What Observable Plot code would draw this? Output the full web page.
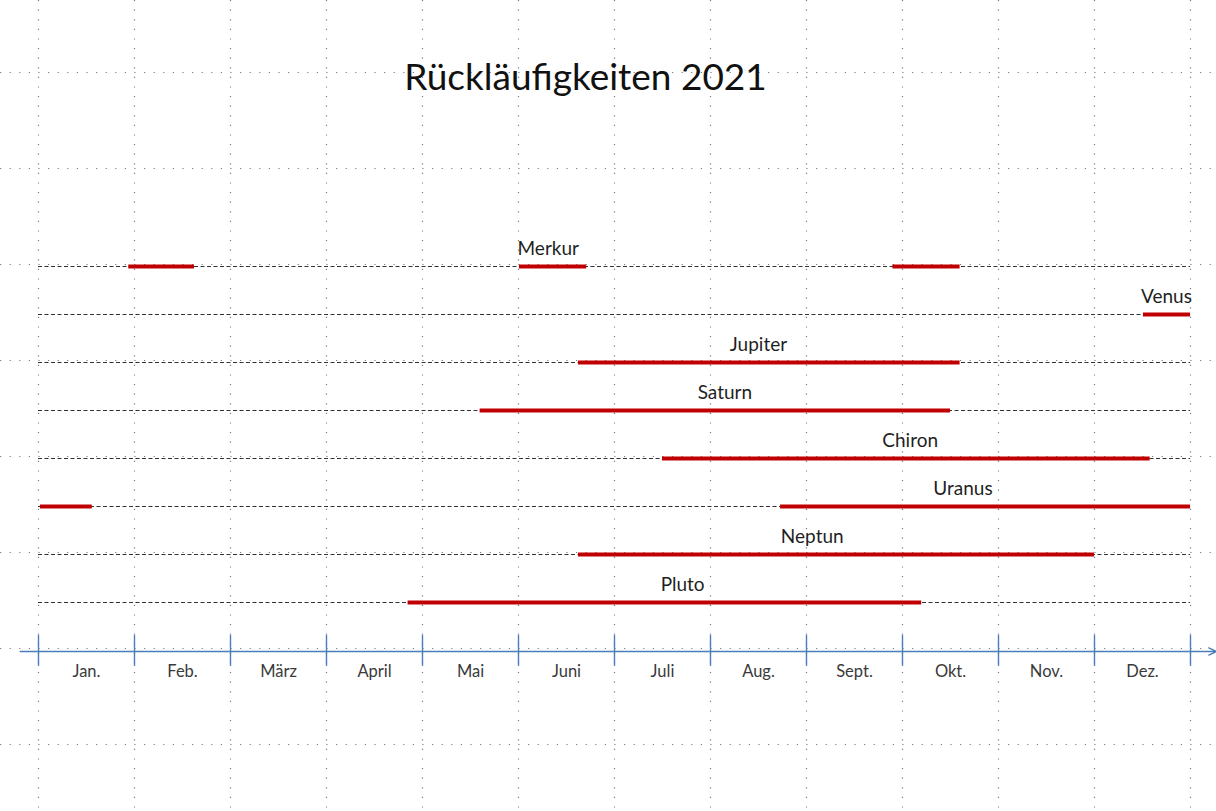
<!DOCTYPE html>
<html>
<head>
<meta charset="utf-8">
<script src="https://cdn.jsdelivr.net/npm/d3@7"></script>
<script src="https://cdn.jsdelivr.net/npm/@observablehq/plot@0.6"></script>
<style>
  html, body { margin: 0; padding: 0; background: #fff; overflow: hidden; }
  #chart svg { display: block; }
</style>
</head>
<body>
<div id="chart"></div>
<script>
// ---- data (months as fractional positions: 0 = 1 Jan, 12 = 31 Dec) ----
const title = "Rückläufigkeiten 2021";
const months = ["Jan.", "Feb.", "März", "April", "Mai", "Juni", "Juli", "Aug.", "Sept.", "Okt.", "Nov.", "Dez."];
const planets = ["Merkur", "Venus", "Jupiter", "Saturn", "Chiron", "Uranus", "Neptun", "Pluto"];
const labelMonth = [5.31, 11.75, 7.5, 7.15, 9.08, 9.63, 8.06, 6.71];
const segPlanet = ["Merkur", "Merkur", "Merkur", "Venus", "Jupiter", "Saturn", "Chiron", "Uranus", "Uranus", "Neptun", "Pluto"];
const segStart  = [0.94, 5.01, 8.9, 11.51, 5.625, 4.6, 6.5, 0.02, 7.73, 5.625, 3.85];
const segEnd    = [1.625, 5.71, 9.6, 12, 9.6, 9.5, 11.58, 0.56, 12, 11.0, 9.2];

// ---- derived tables ----
const rowOf = p => planets.indexOf(p);
const planetRows = planets.map((p, i) => ({planet: p, row: i, label: labelMonth[i]}));
const segments = segPlanet.map((p, i) => ({planet: p, row: rowOf(p), start: segStart[i], end: segEnd[i]}));
const monthRows = months.map((m, i) => ({month: m, mid: i + 0.5}));
const boundaries = d3.range(months.length + 1);
const axisRow = 8.02;
const pageGrid = d3.range(-4, 11, 2);

const W = 1216, H = 811;
const font = "Lato, 'Open Sans', sans-serif";
const blue = "#4a7ebb";

const chart = Plot.plot({
  width: W,
  height: H,
  margin: 0,
  style: {fontFamily: font, background: "#fff"},
  x: {domain: [-38 / 96, (W - 38) / 96], range: [0, W], axis: null},
  y: {domain: [-266 / 48, (H - 266) / 48], range: [0, H], axis: null},
  marks: [
    // page dot grid
    Plot.ruleX(boundaries, {stroke: "#707070", strokeWidth: 1.2, strokeDasharray: "1.2,8.4", strokeOpacity: 0.9}),
    Plot.ruleY(pageGrid, {dy: -2, stroke: "#707070", strokeWidth: 1.2, strokeDasharray: "1.2,8.4", strokeOpacity: 0.9}),
    // title
    Plot.text([title], {frameAnchor: "top-left", dx: 585, dy: 78, text: d => d, fontSize: 37, fill: "#111", lineAnchor: "middle", textAnchor: "middle"}),
    // planet baselines (dashed)
    Plot.ruleY(planetRows, {y: "row", x1: 0, x2: 12, stroke: "#333", strokeWidth: 1.2, strokeDasharray: "4,2.5"}),
    // retrograde periods
    Plot.ruleY(segments, {y: "row", x1: "start", x2: "end", stroke: "#c00000", strokeWidth: 4}),
    // planet labels
    Plot.text(planetRows, {x: "label", y: "row", text: "planet", dy: -18, fontSize: 19, fill: "#1f1f1f", lineAnchor: "middle"}),
    // time axis with arrow
    Plot.arrow([{a: -0.19, b: 12.27}], {x1: "a", x2: "b", y1: axisRow, y2: axisRow, stroke: blue, strokeWidth: 1.4, headLength: 9, headAngle: 50}),
    Plot.ruleX(boundaries, {y1: 7.69, y2: 8.33, stroke: blue, strokeWidth: 1.4}),
    Plot.text(monthRows, {x: "mid", y: axisRow, text: "month", dy: 20, fontSize: 16.5, fill: "#3a3a3a", lineAnchor: "middle"})
  ]
});
document.getElementById("chart").append(chart);
</script>
</body>
</html>
